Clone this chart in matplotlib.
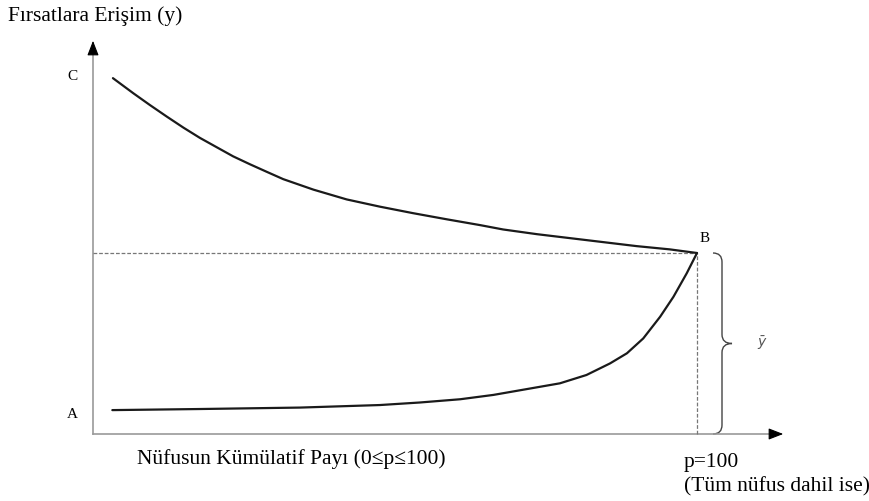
import matplotlib.pyplot as plt
from matplotlib.path import Path
from matplotlib.patches import PathPatch

# curve data: p = cumulative population share (0-100), y = access to opportunities
p_upper = [3.3, 6.7, 9.4, 12.2, 15.0, 17.7, 20.5, 23.2, 26.0, 28.8, 31.5, 36.5,
           42.0, 47.5, 53.0, 58.6, 64.1, 67.9, 73.5, 79.0, 84.5, 90.0, 95.5, 100]
y_upper = [98.3, 94.1, 90.9, 87.7, 84.6, 81.8, 79.2, 76.7, 74.5, 72.4, 70.4, 67.5,
           64.8, 62.8, 61.0, 59.3, 57.7, 56.5, 55.2, 54.1, 53.0, 51.9, 51.0, 50]

p_lower = [3.2, 17.7, 34.3, 47.5, 54.1, 60.8, 66.3, 71.8, 77.3, 81.7, 85.6, 88.4,
           91.1, 93.9, 96.1, 98.3, 100]
y_lower = [6.6, 6.9, 7.3, 8.0, 8.7, 9.6, 10.8, 12.4, 14.0, 16.3, 19.5, 22.3,
           26.4, 32.4, 37.9, 44.4, 50]

y_mean = 50
p_max = 100

serif = ["Liberation Serif", "DejaVu Serif"]

W, H = 869, 501
fig = plt.figure(figsize=(W / 100, H / 100), dpi=100)
ax = fig.add_axes([0, 0, 1, 1])

# pixel calibration: p=0 at x=93px, p=100 at x=697px; y=0 at 434px, y=50 at 253px
sx = (697 - 93) / 100
sy = (434 - 253) / 50
ax.set_xlim(-93 / sx, (W - 93) / sx)
ax.set_ylim((434 - H) / sy, 434 / sy)
ax.axis("off")

def px(x):
    return (x - 93) / sx

def py(y):
    return (434 - y) / sy

# axes with arrows
axis_col = "#9a9a9a"
ax.plot([0, px(775)], [0, 0], color=axis_col, lw=1.2)
ax.plot([0, 0], [0, py(48)], color=axis_col, lw=1.2)
ax.annotate("", xy=(px(786), 0), xytext=(px(770), 0),
            arrowprops=dict(arrowstyle="-|>,head_length=0.9,head_width=0.35",
                            color="black", lw=0.8))
ax.annotate("", xy=(0, py(38)), xytext=(0, py(54)),
            arrowprops=dict(arrowstyle="-|>,head_length=0.9,head_width=0.35",
                            color="black", lw=0.8))

# dashed reference lines
ax.plot([0, p_max], [y_mean, y_mean], color="#777777", lw=0.9, ls=(0, (3, 1.5)))
ax.plot([p_max, p_max], [0, y_mean], color="#777777", lw=0.9, ls=(0, (3, 1.5)))

# curves
ax.plot(p_upper, y_upper, color="#1a1a1a", lw=1.6, solid_capstyle="round",
        solid_joinstyle="round")
ax.plot(p_lower, y_lower, color="#1a1a1a", lw=1.6, solid_capstyle="round",
        solid_joinstyle="round")

# brace for y-bar
bx = px(722)
dx = 9 / sx
dy = 9 / sy
tip = 10 / sx
mid = y_mean / 2
verts = [
    (bx - dx, y_mean), (bx, y_mean), (bx, y_mean - dy),
    (bx, mid + dy),
    (bx, mid), (bx + tip, mid),
    (bx, mid), (bx, mid - dy),
    (bx, dy),
    (bx, 0), (bx - dx, 0),
]
codes = [Path.MOVETO, Path.CURVE3, Path.CURVE3, Path.LINETO,
         Path.CURVE3, Path.CURVE3, Path.CURVE3, Path.CURVE3,
         Path.LINETO, Path.CURVE3, Path.CURVE3]
ax.add_patch(PathPatch(Path(verts, codes), fill=False, ec="#444444", lw=1.0))

# labels
ax.text(px(762), mid, r"$\bar{y}$", fontsize=10, color="#555555", ha="center", va="center")
ax.text(px(72), py(77), "C", family=serif, fontsize=11, ha="center", va="center")
ax.text(px(72), py(414), "A", family=serif, fontsize=11, ha="center", va="center")
ax.text(px(705), py(238), "B", family=serif, fontsize=11, ha="center", va="center")

fs = 15.5
fig.text(8 / W, 1 - 16 / H, "Fırsatlara Erişim (y)", family=serif, fontsize=fs,
         ha="left", va="center")
fig.text(137 / W, 1 - 459 / H, "Nüfusun Kümülatif Payı (0≤p≤100)", family=serif,
         fontsize=fs, ha="left", va="center")
fig.text(684 / W, 1 - 462 / H, "p=100", family=serif, fontsize=fs, ha="left", va="center")
fig.text(684 / W, 1 - 487 / H, "(Tüm nüfus dahil ise)", family=serif, fontsize=fs,
         ha="left", va="center")

fig.savefig("out.png", dpi=100, facecolor="white")
